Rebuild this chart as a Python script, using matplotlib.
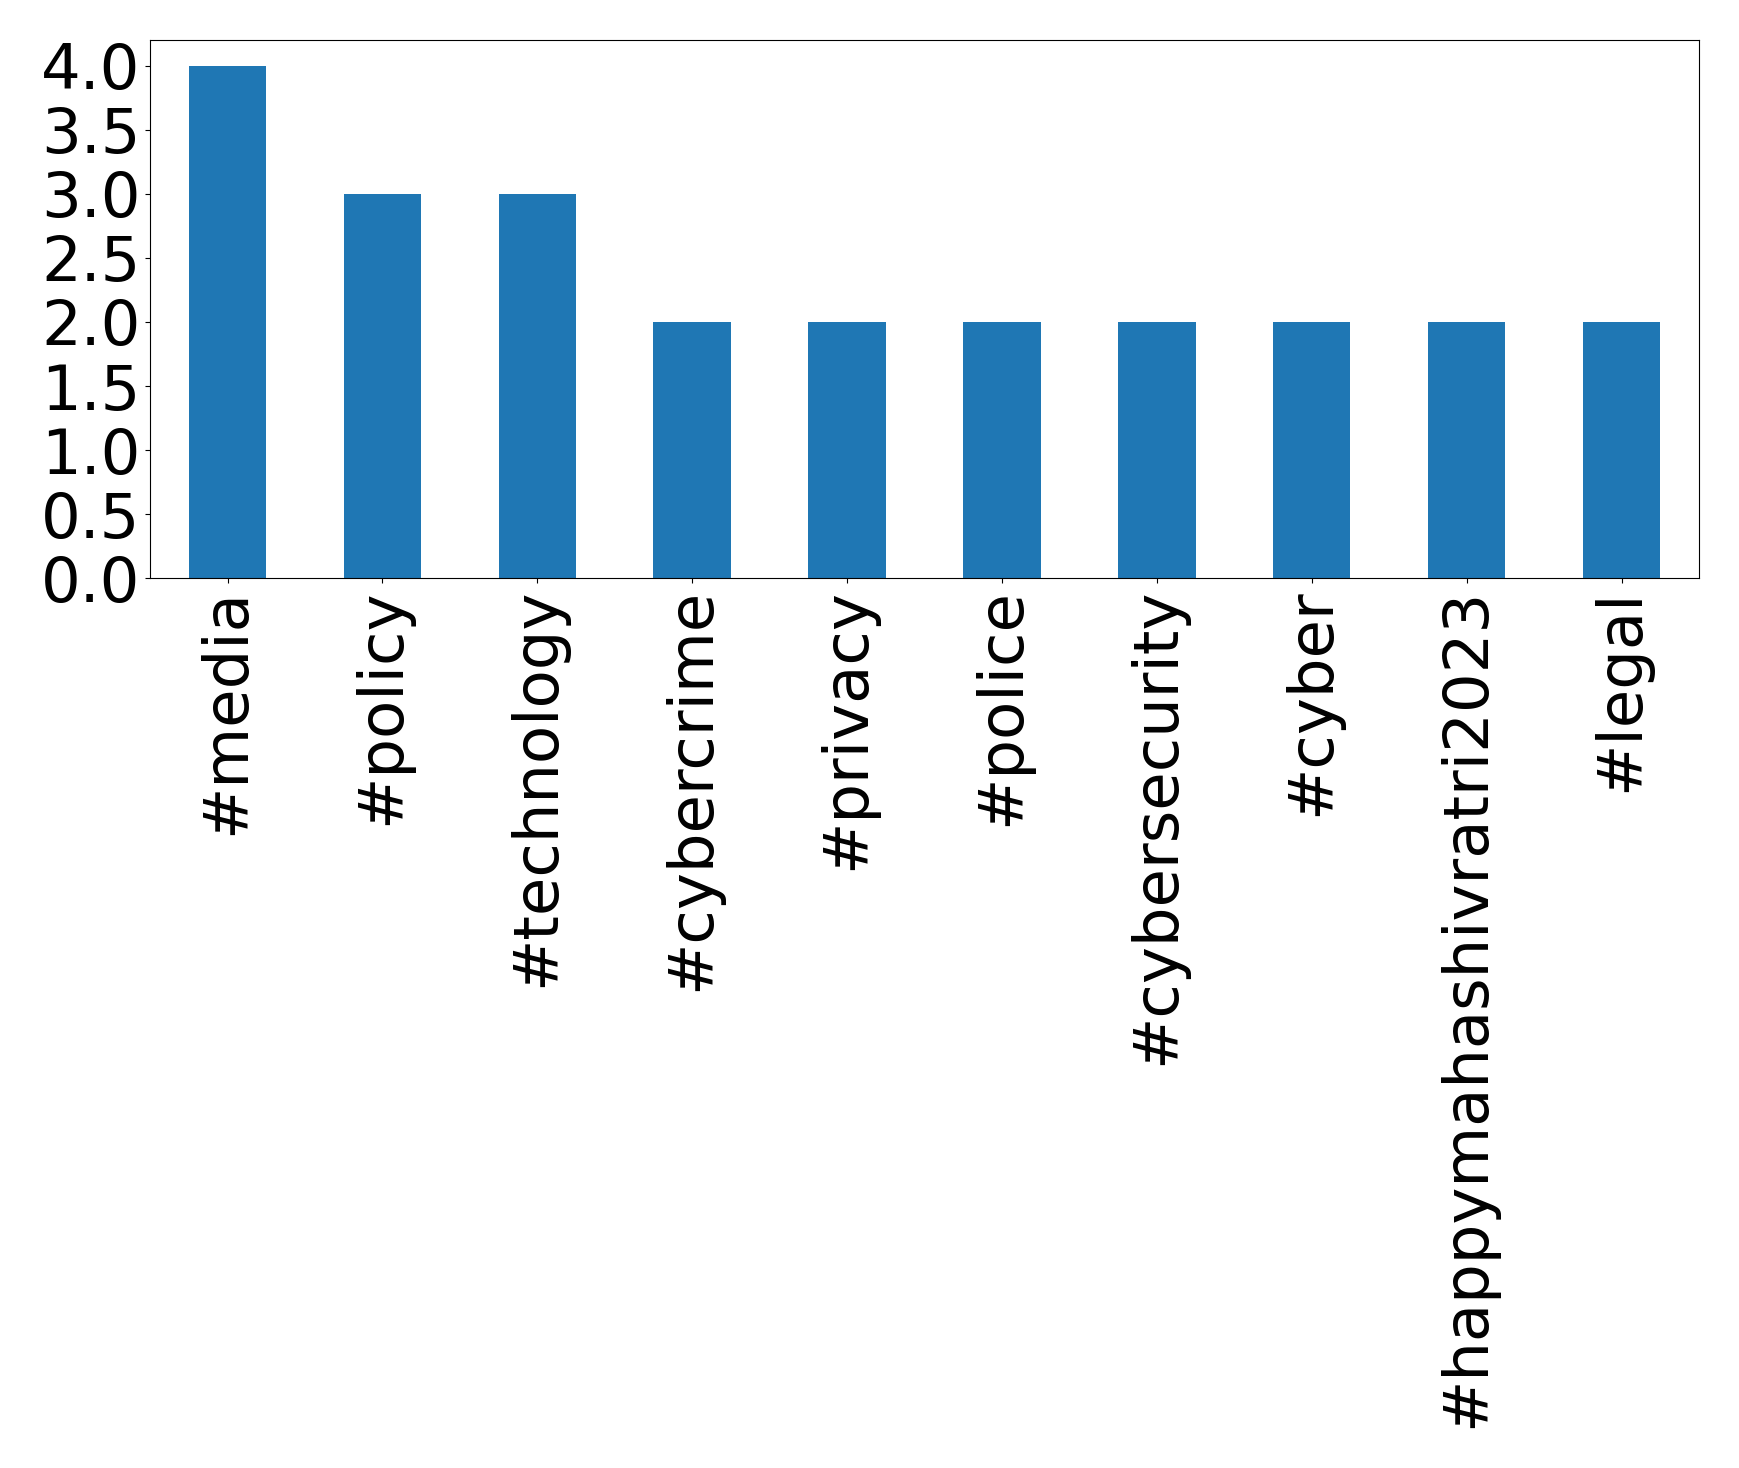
import matplotlib
matplotlib.use("Agg")
import matplotlib.pyplot as plt
import pandas as pd

categories = ["#media", "#policy", "#technology", "#cybercrime", "#privacy",
              "#police", "#cybersecurity", "#cyber", "#happymahashivratri2023", "#legal"]
counts = [4, 3, 3, 2, 2, 2, 2, 2, 2, 2]

s = pd.Series(counts, index=categories)

fig = plt.figure(figsize=(17.39, 14.68), dpi=100)
ax = fig.add_axes([0.0863, 0.606, 0.8907, 0.3668])
s.plot(kind="bar", ax=ax, color="#1f77b4", fontsize=45)
ax.set_xlim(-0.5, len(categories) - 0.5)
ax.set_yticks([0, 0.5, 1, 1.5, 2, 2.5, 3, 3.5, 4])
fig.savefig("out.png", dpi=100)
